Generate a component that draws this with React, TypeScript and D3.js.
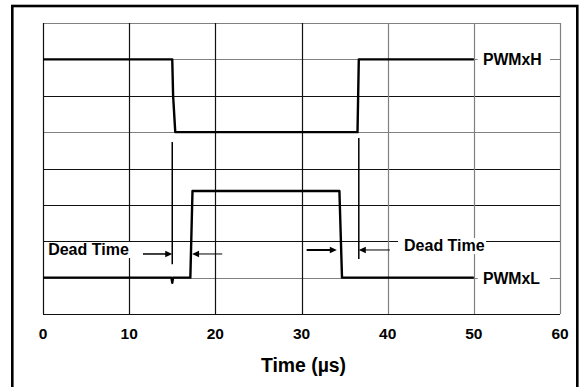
import { useEffect, useRef } from "react";
import * as d3 from "d3";

// time axis (µs)
const xTicks = [0, 10, 20, 30, 40, 50, 60];
// vertical divisions (scope grid, no labels)
const yDivisions = [0, 1, 2, 3, 4, 5, 6, 7, 8];
const darkVertical = [0, 10, 20, 30];
const darkHorizontal = [0, 2, 3, 4, 6];

// traces: [time µs, level in divisions]
const pwmHigh: [number, number][] = [
  [0, 7], [15, 7], [15.1, 6], [15.35, 5], [36.5, 5], [36.65, 7], [50, 7],
];
const pwmLow: [number, number][] = [
  [0, 1], [14.9, 1], [15, 0.86], [15.1, 1], [17.1, 1], [17.35, 3.38],
  [34.4, 3.38], [34.7, 1], [50, 1],
];

// dead time markers: time, from level, to level
const markers = [
  { t: 15, top: 4.73, bottom: 1.37 },
  { t: 36.65, top: 4.84, bottom: 1.51 },
];

// arrows: from time to time at level
const arrows = [
  { from: 11.6, to: 15, level: 1.65, w: 1.5 },
  { from: 20.8, to: 17.3, level: 1.65, w: 1 },
  { from: 30.6, to: 34.1, level: 1.76, w: 2 },
  { from: 40.25, to: 36.65, level: 1.76, w: 1 },
];

const deadLabels = [
  { t: 0.6, level: 1.62, text: "Dead Time" },
  { t: 41.9, level: 1.73, text: "Dead Time" },
];

const traceLabels = [
  { level: 7, text: "PWMxH" },
  { level: 1, text: "PWMxL" },
];

export default function App() {
  const svgRef = useRef<SVGSVGElement>(null);
  const width = 586;
  const height = 387;

  useEffect(() => {
    document.body.style.margin = "0";
    if (!svgRef.current) return;
    const svg = d3.select(svgRef.current);
    svg.selectAll("*").remove();

    const margin = { top: 23, right: 26, bottom: 73, left: 43 };
    const x = d3.scaleLinear().domain([0, 60]).range([margin.left, width - margin.right]);
    const y = d3.scaleLinear().domain([0, 8]).range([height - margin.bottom, margin.top]);
    const font = "Arial, 'Liberation Sans', Helvetica, sans-serif";

    svg.append("rect").attr("width", width).attr("height", height).attr("fill", "#fff");

    // outer frame
    svg
      .append("rect")
      .attr("x", 12.3)
      .attr("y", 6)
      .attr("width", 565)
      .attr("height", 400)
      .attr("fill", "none")
      .attr("stroke", "#000")
      .attr("stroke-width", 2.6);

    // grid
    svg
      .append("g")
      .selectAll("line")
      .data(yDivisions)
      .join("line")
      .attr("x1", x(0))
      .attr("x2", x(60))
      .attr("y1", (d) => Math.round(y(d)) + 0.5)
      .attr("y2", (d) => Math.round(y(d)) + 0.5)
      .attr("stroke", (d) => (darkHorizontal.includes(d) ? "#111" : "#808080"))
      .attr("stroke-width", 1.2);

    svg
      .append("g")
      .selectAll("line")
      .data(xTicks)
      .join("line")
      .attr("x1", (d) => Math.round(x(d)) + 0.5)
      .attr("x2", (d) => Math.round(x(d)) + 0.5)
      .attr("y1", y(8))
      .attr("y2", y(0))
      .attr("stroke", (d) => (darkVertical.includes(d) ? "#111" : "#808080"))
      .attr("stroke-width", 1.2);

    // label backgrounds break the grid
    traceLabels.forEach((l) => {
      svg
        .append("rect")
        .attr("x", x(50.45))
        .attr("y", y(l.level) - 8)
        .attr("width", x(58.85) - x(50.45))
        .attr("height", 16)
        .attr("fill", "#fff");
    });
    deadLabels.forEach((l, i) => {
      svg
        .append("rect")
        .attr("x", x(l.t) - (i === 0 ? 2 : 6))
        .attr("y", y(l.level) - 13)
        .attr("width", 88)
        .attr("height", 16)
        .attr("fill", "#fff");
    });

    const line = d3
      .line<[number, number]>()
      .x((d) => x(d[0]))
      .y((d) => y(d[1]));

    [pwmHigh, pwmLow].forEach((trace) => {
      svg
        .append("path")
        .datum(trace)
        .attr("d", line)
        .attr("fill", "none")
        .attr("stroke", "#000")
        .attr("stroke-width", 2.4)
        .attr("stroke-linejoin", "round");
    });

    // markers
    svg
      .append("g")
      .selectAll("line")
      .data(markers)
      .join("line")
      .attr("x1", (d) => x(d.t))
      .attr("x2", (d) => x(d.t))
      .attr("y1", (d) => y(d.top))
      .attr("y2", (d) => y(d.bottom))
      .attr("stroke", "#000")
      .attr("stroke-width", 1.5);

    // arrows
    arrows.forEach((a) => {
      const dir = Math.sign(a.to - a.from);
      const x1 = x(a.from);
      const x2 = x(a.to);
      const yy = y(a.level);
      svg
        .append("line")
        .attr("x1", x1)
        .attr("x2", x2 - dir * 5)
        .attr("y1", yy)
        .attr("y2", yy)
        .attr("stroke", "#000")
        .attr("stroke-width", a.w);
      svg
        .append("path")
        .attr("d", `M${x2},${yy} L${x2 - dir * 7},${yy - 3.2} L${x2 - dir * 7},${yy + 3.2} Z`)
        .attr("fill", "#000");
    });

    // text
    traceLabels.forEach((l) => {
      svg
        .append("text")
        .attr("x", x(51.05))
        .attr("y", y(l.level) + 6)
        .attr("font-family", font)
        .attr("font-weight", "bold")
        .attr("font-size", 15.8)
        .text(l.text);
    });
    deadLabels.forEach((l) => {
      svg
        .append("text")
        .attr("x", x(l.t))
        .attr("y", y(l.level))
        .attr("font-family", font)
        .attr("font-weight", "bold")
        .attr("font-size", 16)
        .text(l.text);
    });

    svg
      .append("g")
      .selectAll("text")
      .data(xTicks)
      .join("text")
      .attr("x", (d) => x(d))
      .attr("y", 339)
      .attr("text-anchor", "middle")
      .attr("font-family", font)
      .attr("font-weight", "bold")
      .attr("font-size", 15.5)
      .text((d) => d);

    svg
      .append("text")
      .attr("x", x(30) + 2)
      .attr("y", 372)
      .attr("text-anchor", "middle")
      .attr("font-family", font)
      .attr("font-weight", "bold")
      .attr("font-size", 19.4)
      .text("Time (µs)");
  }, []);

  return (
    <svg
      ref={svgRef}
      width={width}
      height={height}
      viewBox={`0 0 ${width} ${height}`}
      style={{ display: "block" }}
    />
  );
}
